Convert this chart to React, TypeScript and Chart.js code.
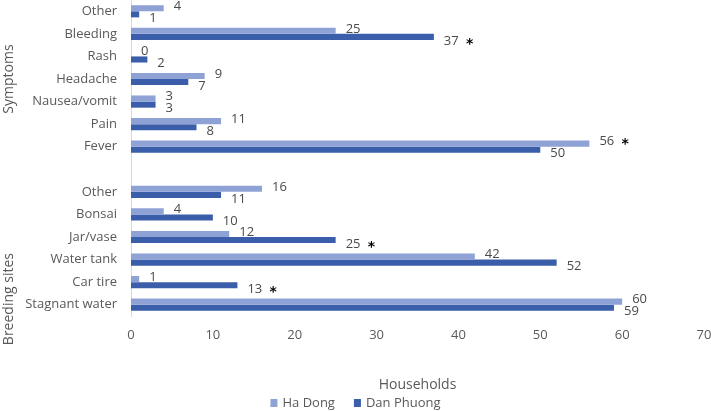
import React, { useEffect, useRef } from "react";
import { Chart, registerables } from "chart.js";

Chart.register(...registerables);

const categories = [
  "Other", "Bleeding", "Rash", "Headache", "Nausea/vomit", "Pain", "Fever",
  "",
  "Other", "Bonsai", "Jar/vase", "Water tank", "Car tire", "Stagnant water",
];
const haDong = [4, 25, 0, 9, 3, 11, 56, null, 16, 4, 12, 42, 1, 60];
const danPhuong = [1, 37, 2, 7, 3, 8, 50, null, 11, 10, 25, 52, 13, 59];
const starHaDong = [false, false, false, false, false, false, true, false, false, false, false, false, false, false];
const starDanPhuong = [false, true, false, false, false, false, false, false, false, false, true, false, true, false];
const seriesNames = ["Ha Dong", "Dan Phuong"];
const groupLabels = ["Symptoms", "Breeding sites"];
const xTicks = [0, 10, 20, 30, 40, 50, 60, 70];
const xTitle = "Households";

const LIGHT = "#8FA2D6";
const DARK = "#3A5EAA";
const TEXT = "#595959";
const LABEL = "#4A4A4A";
const FONT = "'Open Sans', sans-serif";

const labelsPlugin = {
  id: "barLabels",
  afterDatasetsDraw(chart: any) {
    const ctx = chart.ctx;
    ctx.save();
    ctx.textBaseline = "middle";
    ctx.textAlign = "left";
    const stars = [starHaDong, starDanPhuong];
    chart.data.datasets.forEach((ds: any, di: number) => {
      const meta = chart.getDatasetMeta(di);
      meta.data.forEach((el: any, i: number) => {
        const v = ds.data[i];
        if (v === null || v === undefined) return;
        const x = el.x + 10;
        const y = el.y + (di === 0 ? -2 : 4);
        ctx.fillStyle = LABEL;
        ctx.font = `13px ${FONT}`;
        const txt = String(v);
        ctx.fillText(txt, x, y);
        if (stars[di][i]) {
          const w = ctx.measureText(txt).width;
          ctx.fillStyle = "#000";
          ctx.font = `bold 14px 'DejaVu Sans', sans-serif`;
          ctx.textAlign = "center";
          ctx.fillText("*", x + w + 11, y + 3);
          ctx.textAlign = "left";
        }
      });
    });
    ctx.restore();
  },
};

const decorPlugin = {
  id: "decor",
  afterDraw(chart: any) {
    const ctx = chart.ctx;
    const ys = chart.scales.y;
    ctx.save();
    ctx.fillStyle = TEXT;
    ctx.font = `14px ${FONT}`;
    ctx.textAlign = "center";
    ctx.textBaseline = "middle";
    const centers = [
      (ys.getPixelForValue(0) + ys.getPixelForValue(6)) / 2,
      ys.getPixelForValue(12.75),
    ];
    groupLabels.forEach((t, i) => {
      ctx.save();
      ctx.translate(9, centers[i]);
      ctx.rotate(-Math.PI / 2);
      ctx.fillText(t, 0, 0);
      ctx.restore();
    });
    ctx.font = `13px ${FONT}`;
    const box = 7, gapBox = 5, gapItem = 19;
    const widths = seriesNames.map((n) => box + gapBox + ctx.measureText(n).width);
    const total = widths.reduce((a, b) => a + b, 0) + gapItem * (seriesNames.length - 1);
    let x = chart.width / 2 - total / 2;
    const ly = 403;
    const colors = [LIGHT, DARK];
    ctx.textAlign = "left";
    seriesNames.forEach((n, i) => {
      ctx.fillStyle = colors[i];
      ctx.fillRect(x, ly - 4, box, 8);
      ctx.fillStyle = TEXT;
      ctx.fillText(n, x + box + gapBox, ly);
      x += widths[i] + gapItem;
    });
    ctx.restore();
  },
};

export default function App() {
  const ref = useRef<HTMLCanvasElement | null>(null);
  useEffect(() => {
    if (!ref.current) return;
    const chart = new Chart(ref.current, {
      type: "bar",
      data: {
        labels: categories,
        datasets: [
          { label: seriesNames[0], data: haDong, backgroundColor: LIGHT, categoryPercentage: 0.54, barPercentage: 1 },
          { label: seriesNames[1], data: danPhuong, backgroundColor: DARK, categoryPercentage: 0.54, barPercentage: 1 },
        ],
      },
      options: {
        indexAxis: "y",
        animation: false,
        responsive: false,
        maintainAspectRatio: false,
        layout: { padding: { left: 0, right: 7, top: 0, bottom: 0 } },
        plugins: { legend: { display: false }, tooltip: { enabled: false } },
        scales: {
          y: {
            grid: { display: false, drawTicks: false },
            border: { display: true, color: "#D9D9D9", width: 1 },
            ticks: { color: TEXT, font: { family: FONT, size: 13 }, padding: 14, autoSkip: false },
            afterFit(scale: any) {
              scale.width = 131;
              scale.paddingTop = 0;
              scale.paddingBottom = 0;
            },
          },
          x: {
            min: 0,
            max: 70,
            grid: { display: false, drawTicks: false },
            border: { display: false },
            afterBuildTicks(scale: any) { scale.ticks = xTicks.map((v) => ({ value: v })); },
            ticks: { color: TEXT, font: { family: FONT, size: 13 }, padding: 11 },
            title: { display: true, text: xTitle, color: TEXT, font: { family: FONT, size: 14 }, padding: { top: 0, bottom: 18 } },
            afterFit(scale: any) {
              scale.height = 95;
              scale.paddingLeft = 0;
              scale.paddingRight = 0;
            },
          },
        },
      },
      plugins: [labelsPlugin, decorPlugin],
    });
    return () => chart.destroy();
  }, []);
  return (
    <div style={{ position: "fixed", left: 0, top: 0, width: 711, height: 411, background: "#fff" }}>
      <canvas ref={ref} width={711} height={411} style={{ width: 711, height: 411 }} />
    </div>
  );
}
